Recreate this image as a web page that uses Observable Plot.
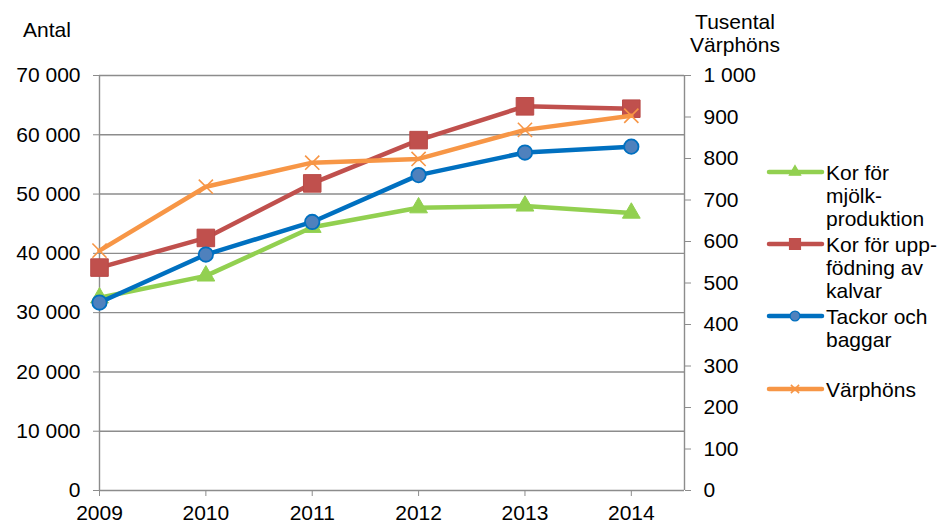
<!DOCTYPE html>
<html>
<head>
<meta charset="utf-8">
<script src="https://cdn.jsdelivr.net/npm/d3@7"></script>
<script src="https://cdn.jsdelivr.net/npm/@observablehq/plot@0.6"></script>
<style>
  html, body { margin: 0; padding: 0; background: #fff; }
  #wrap { position: relative; width: 945px; height: 524px; font-family: "Liberation Sans", Arial, sans-serif; font-size: 21px; color: #000; }
  #wrap svg { position: absolute; left: 0; top: 0; }
  .t { position: absolute; white-space: nowrap; line-height: 23px; }
  .leg { position: absolute; left: 767px; }
  .leg svg { position: absolute; left: 0; top: 0; }
  .leg .lbl { position: absolute; left: 59px; top: -11px; line-height: 23px; white-space: nowrap; }
</style>
</head>
<body>
<div id="wrap"></div>
<script>
// ---- data ----
const years = [2009, 2010, 2011, 2012, 2013, 2014];
const korMjolk = [32500, 36200, 44400, 47700, 48000, 46800];      // Antal (left axis)
const korKalvar = [37600, 42600, 51800, 59100, 64800, 64400];     // Antal (left axis)
const tackor = [31700, 39800, 45300, 53200, 57000, 58000];        // Antal (left axis)
const varphons = [578, 732, 790, 799, 869, 903];                  // Tusental (right axis)
const leftTicks = [0, 10000, 20000, 30000, 40000, 50000, 60000, 70000];
const rightTicks = [0, 100, 200, 300, 400, 500, 600, 700, 800, 900, 1000];
const seriesNames = [["Kor för", "mjölk-", "produktion"], ["Kor för upp-", "födning av", "kalvar"], ["Tackor och", "baggar"], ["Värphöns"]];
const leftTitle = "Antal";
const rightTitle = ["Tusental", "Värphöns"];

// ---- build ----
const ratio = 70000 / 1000; // right axis value -> left axis scale
const fmt = d3.formatLocale({decimal: ",", thousands: "\u00a0", grouping: [3], currency: ["", " kr"]}).format(",d");

const colors = {green: "#92D050", red: "#C0504D", blue: "#0070C0", blueFill: "#4F81BD", orange: "#F79646"};
const mk = (vals) => years.map((y, i) => ({year: y, value: vals[i]}));
const gMj = mk(korMjolk), gKa = mk(korKalvar), gTa = mk(tackor), gVa = mk(varphons);
const lineOpts = {x: "year", y: "value", strokeWidth: 4.5, strokeLinejoin: "round", strokeLinecap: "round"};
const grey = "#8c8c8c";

const chart = Plot.plot({
  width: 945, height: 524,
  marginLeft: 99, marginRight: 261, marginTop: 75, marginBottom: 34,
  x: {domain: [2009, 2014.5]},
  y: {domain: [0, 70000]},
  style: {fontFamily: "'Liberation Sans', Arial, sans-serif", fontSize: "21px", color: "#000", background: "transparent"},
  marks: [
    Plot.ruleY(leftTicks, {stroke: grey, strokeWidth: 1.4}),
    Plot.ruleX([2009], {stroke: grey, strokeWidth: 1.4}),
    Plot.ruleX([2014.5], {stroke: grey, strokeWidth: 1.4}),
    Plot.axisY({anchor: "left", ticks: leftTicks, tickFormat: fmt, tickSize: 6, tickPadding: 13, stroke: grey, fill: "#000", label: null}),
    Plot.axisY({anchor: "right", ticks: rightTicks.map(v => v * ratio), tickFormat: d => fmt(Math.round(d / ratio)), tickSize: 6, tickPadding: 13, stroke: grey, fill: "#000", label: null}),
    Plot.axisX({ticks: years, tickFormat: d => String(d), tickSize: 6, tickPadding: 9, stroke: grey, fill: "#000", label: null}),
    // green
    Plot.line(gMj, {...lineOpts, stroke: colors.green}),
    Plot.dot(gMj, {x: "year", y: "value", symbol: "triangle", r: 6.6, fill: colors.green, stroke: colors.green, strokeWidth: 1}),
    // red
    Plot.line(gKa, {...lineOpts, stroke: colors.red}),
    Plot.dot(gKa, {x: "year", y: "value", symbol: "square", r: 9.9, fill: colors.red, stroke: "#B94A47", strokeWidth: 1}),
    // blue
    Plot.line(gTa, {...lineOpts, stroke: colors.blue}),
    Plot.dot(gTa, {x: "year", y: "value", symbol: "circle", r: 7.2, fill: colors.blueFill, stroke: colors.blue, strokeWidth: 1.8}),
    // orange (right axis)
    Plot.line(gVa, {...lineOpts, y: d => d.value * ratio, stroke: colors.orange}),
    Plot.dot(gVa, {x: "year", y: d => d.value * ratio, symbol: "times", r: 6.5, stroke: colors.orange, strokeWidth: 1.6})
  ]
});

const wrap = document.getElementById("wrap");
wrap.appendChild(chart);

// titles
const t1 = document.createElement("div");
t1.className = "t"; t1.textContent = leftTitle;
t1.style.left = "23px"; t1.style.top = "18px";
wrap.appendChild(t1);
const t2 = document.createElement("div");
t2.className = "t"; t2.style.left = "690px"; t2.style.top = "10px"; t2.style.textAlign = "center"; t2.style.width = "90px";
t2.innerHTML = rightTitle.join("<br>");
wrap.appendChild(t2);

// legend
const legendSymbols = [
  {color: colors.green, sym: d3.symbolTriangle, size: 55, fill: colors.green, stroke: colors.green},
  {color: colors.red, sym: d3.symbolSquare, size: 120, fill: colors.red, stroke: colors.red},
  {color: colors.blue, sym: d3.symbolCircle, size: 75, fill: colors.blueFill, stroke: colors.blue},
  {color: colors.orange, sym: d3.symbolTimes, size: 45, fill: "none", stroke: colors.orange}
];
const legendY = [172, 244, 316, 389];
seriesNames.forEach((lines, i) => {
  const s = legendSymbols[i];
  const item = document.createElement("div");
  item.className = "leg";
  item.style.top = legendY[i] + "px";
  const svg = d3.create("svg").attr("width", 58).attr("height", 20).style("top", "-10px").style("overflow", "visible");
  svg.append("line").attr("x1", 2).attr("x2", 55).attr("y1", 10).attr("y2", 10)
    .attr("stroke", s.color).attr("stroke-width", 4.5).attr("stroke-linecap", "round");
  svg.append("path").attr("d", d3.symbol(s.sym, s.size)()).attr("transform", "translate(28,10)")
    .attr("fill", s.fill).attr("stroke", s.stroke).attr("stroke-width", s.sym === d3.symbolTimes ? 1.6 : 1.2);
  item.appendChild(svg.node());
  const lbl = document.createElement("div");
  lbl.className = "lbl";
  lbl.innerHTML = lines.join("<br>");
  item.appendChild(lbl);
  wrap.appendChild(item);
});
</script>
</body>
</html>
